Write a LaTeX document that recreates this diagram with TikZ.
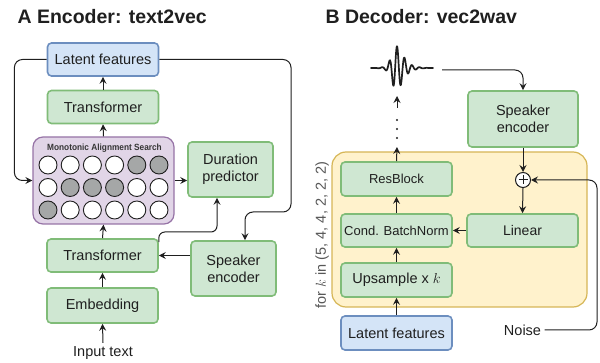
\documentclass[tikz,border=0pt]{standalone}
\usepackage{fontspec}
\setmainfont{Liberation Sans}
\usepackage{amsmath}
\usepackage{tikz}
\usetikzlibrary{
  calc
  , arrows.meta
}

\definecolor{ink}{HTML}{1F1F1F}
\definecolor{greenfill}{HTML}{CFE7D2}
\definecolor{greenline}{HTML}{80BC78}
\definecolor{bluefill}{HTML}{D4E4F7}
\definecolor{blueline}{HTML}{6C8EBF}
\definecolor{purplefill}{HTML}{E1D5E7}
\definecolor{purpleline}{HTML}{9673A6}
\definecolor{yellowfill}{HTML}{FFF2CC}
\definecolor{yellowline}{HTML}{D6B656}
\definecolor{cellgray}{HTML}{A5A7A7}

\begin{document}
\begin{tikzpicture}[
    x=1pt, y=-1pt
    , declare function={env(\t) = 0.72*exp(-((\t-396)/(5.5+2.5*(\t>396)))^2)
        + 0.28*exp(-((\t-398)/(11+4*(\t>398)))^2);}
  ]
  \tikzstyle{block}=[rectangle, draw=greenline, fill=greenfill, line width=1.6pt
    , rounded corners=4pt, minimum width=111pt, minimum height=33pt
    , align=center, text=ink, inner sep=2pt
    , font=\fontsize{14.5}{17}\selectfont];
  \tikzstyle{latent}=[block, draw=blueline, fill=bluefill];
  \tikzstyle{cell}=[circle, draw=ink, line width=0.9pt, minimum size=18pt, inner sep=0pt];
  \tikzstyle{arrow}=[-{Stealth[length=7pt, width=7pt, inset=2.5pt]}, draw=ink, line width=1pt];
  \tikzstyle{title}=[anchor=base west, text=ink, font=\bfseries\fontsize{19.5}{22}\selectfont];

  \useasboundingbox (0,0) rectangle (600,363);

  % ------ A: text2vec
  \node [title] (titleA) at (14,24) {A Encoder: text2vec};

  \node [latent] (latL) at (103,59.5) {Latent features};
  \node [block] (trTop) at (103,107) {Transformer};
  \node [rectangle
      , draw=purpleline
      , fill=purplefill
      , line width=1.2pt
      , rounded corners=10pt
      , minimum width=141pt
      , minimum height=87pt
    ] (mas) at (103.5,180.5) {};
  \node [text=ink!90
      , font=\bfseries\fontsize{9}{10}\selectfont
      , xscale=0.92
    ] (masTitle) at (104.5,148) {Monotonic Alignment Search};

  \foreach \r/\row in {1/{0,0,0,0,1,1}, 2/{0,1,1,1,0,0}, 3/{1,0,0,0,0,0}} {
    \foreach \g [count=\c] in \row {
      \ifnum\g=1 \def\cellfill{cellgray}\else \def\cellfill{white}\fi
      \node [cell, fill=\cellfill] (cell-\r-\c) at ({48 + 22.2*(\c-1)}, {165 + 22.5*(\r-1)}) {};
    }
  }

  \node [block, minimum width=85pt, minimum height=55pt] (dur) at (230.5,169.5) {Duration\\predictor};
  \node [block] (trBot) at (102.5,255.5) {Transformer};
  \node [block, minimum height=35pt] (emb) at (102.5,305.5) {Embedding};
  \node [text=ink, font=\fontsize{14.5}{17}\selectfont] (input) at (103,353) {Input text};
  \node [block, minimum width=85pt, minimum height=55pt] (spkL) at (233.5,268.5) {Speaker\\encoder};

  \draw [arrow] (input.north) -- (emb.south);
  \draw [arrow] (emb.north) -- (trBot.south);
  \draw [arrow] (trBot.north) -- (mas.south);
  \draw [arrow] (mas.north) -- (trTop.south);
  \draw [arrow] (trTop.north) -- (latL.south);
  \draw [arrow] (mas.east) -- (mas.east -| dur.west);
  \draw [arrow] (spkL.west |- trBot.east) -- (trBot.east);
  \draw [arrow, rounded corners=6pt]
    ($(trBot.north east)+(0,4)$) |- (217,232) -- ($(dur.south)+(-13.5,0)$);
  \draw [arrow, rounded corners=8pt]
    (latL.west) -| ($(mas.west)+(-18,0)$) -- (mas.west);
  \draw [arrow, rounded corners=8pt]
    (latL.east) -| (291,212) -| ($(spkL.north)+(11.5,0)$);

  % ------ B: vec2wav
  \node [title] (titleB) at (322,24) {B Decoder: vec2wav};

  \draw [ink, line width=1.7pt, line join=round, line cap=round, domain=371:433, samples=300, smooth]
    plot (\x, {68 - 22*env(\x)*cos(360*(\x-397)/7.5)});
  \coordinate (waveEnd) at (442,70);
  \coordinate (waveBot) at (397,96);
  \coordinate (dotsTop) at (397,108);
  \coordinate (dotsBot) at (397,147);
  \foreach \yy in {120,129,138}
    \fill [ink] (397,\yy) circle (1.1pt);

  \node [rectangle
      , draw=yellowline
      , fill=yellowfill
      , line width=1.2pt
      , rounded corners=14pt
      , minimum width=255pt
      , minimum height=155pt
    ] (loop) at (459.5,229.5) {};
  \node [rotate=90, text=ink!75, font=\fontsize{14.5}{17}\selectfont] (forK) at (322,235) {for $k$ in (5, 4, 4, 2, 2, 2)};

  \node [block, minimum width=110pt, minimum height=56pt] (spkR) at (523,119) {Speaker\\encoder};
  \node [block, font=\fontsize{13}{15}\selectfont, minimum height=34pt] (res) at (396.5,179) {ResBlock};
  \node [block, font=\fontsize{13}{15}\selectfont] (cbn) at (396.5,230.5) {Cond. BatchNorm};
  \node [block, minimum height=34pt] (ups) at (396.5,280) {Upsample x $k$};
  \node [latent, minimum height=34pt] (latR) at (396.5,333) {Latent features};
  \node [block, font=\fontsize{14}{16}\selectfont] (lin) at (522.5,230.5) {Linear};
  \node [circle, draw=ink, fill=white, line width=1pt, minimum size=15pt, inner sep=0pt] (plus) at (523,180) {};
  \draw [ink, line width=1pt]
    ($(plus.center)+(-4.5,0)$) -- ($(plus.center)+(4.5,0)$)
    ($(plus.center)+(0,-4.5)$) -- ($(plus.center)+(0,4.5)$);
  \node [text=ink, font=\fontsize{14.5}{17}\selectfont] (noise) at (522.5,330) {Noise};

  \draw [arrow] (latR.north) -- (ups.south);
  \draw [arrow] (ups.north) -- (cbn.south);
  \draw [arrow] (cbn.north) -- (res.south);
  \draw [arrow] (res.north) -- (dotsBot);
  \draw [arrow] (dotsTop) -- (waveBot);
  \draw [arrow, rounded corners=8pt] (waveEnd) -| (spkR.north);
  \draw [arrow] (spkR.south) -- (plus.north);
  \draw [arrow] (plus.south) -- (lin.north);
  \draw [arrow] (lin.west) -- (cbn.east);
  \draw [arrow, rounded corners=8pt]
    (noise.east) -- (597,330) -- (597,180) -- (plus.east);

\end{tikzpicture}
\end{document}
